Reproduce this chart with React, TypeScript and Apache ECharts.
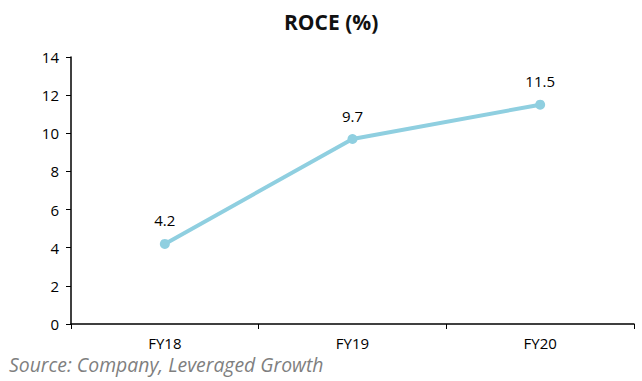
import React, { useEffect, useRef } from "react";
import * as echarts from "echarts";

const categories = ["FY18", "FY19", "FY20"];
const roceValues = [4.2, 9.7, 11.5];
const titleText = "ROCE (%)";
const sourceText = "Source: Company, Leveraged Growth";

export default function App() {
  const ref = useRef<HTMLDivElement>(null);
  useEffect(() => {
    document.body.style.margin = "0";
    const chart = echarts.init(ref.current!, null, { renderer: "svg" });
    const font = "'Open Sans', 'DejaVu Sans', sans-serif";
    chart.setOption({
      animation: false,
      backgroundColor: "#ffffff",
      title: {
        text: titleText,
        left: 279,
        top: 6,
        textStyle: { fontFamily: font, fontSize: 21, fontWeight: "bold", color: "#111" },
      },
      graphic: [
        {
          type: "text",
          left: 9,
          top: 355,
          style: {
            text: sourceText,
            font: `italic 19.4px ${font}`,
            fill: "#7f7f7f",
          },
        },
      ],
      grid: { left: 71, right: 8, top: 57, bottom: 57 },
      xAxis: {
        type: "category",
        data: categories,
        boundaryGap: true,
        axisLine: { lineStyle: { color: "#000", width: 1.5 } },
        axisTick: { show: true, length: 5, lineStyle: { color: "#000" } },
        axisLabel: { color: "#000", fontFamily: font, fontSize: 15, margin: 11 },
      },
      yAxis: {
        type: "value",
        min: 0,
        max: 14,
        interval: 2,
        splitLine: { show: false },
        axisLine: { show: true, lineStyle: { color: "#000", width: 1.5 } },
        axisTick: { show: true, length: 5, lineStyle: { color: "#000" } },
        axisLabel: { color: "#000", fontFamily: font, fontSize: 15, margin: 12 },
      },
      series: [
        {
          type: "line",
          data: roceValues,
          symbol: "circle",
          symbolSize: 10,
          lineStyle: { color: "#8fcfe0", width: 4 },
          itemStyle: { color: "#8fcfe0" },
          label: {
            show: true,
            position: "top",
            distance: 11,
            color: "#000",
            fontFamily: font,
            fontSize: 15,
          },
        },
      ],
    });
    return () => chart.dispose();
  }, []);
  return <div ref={ref} style={{ width: 642, height: 381 }} />;
}
